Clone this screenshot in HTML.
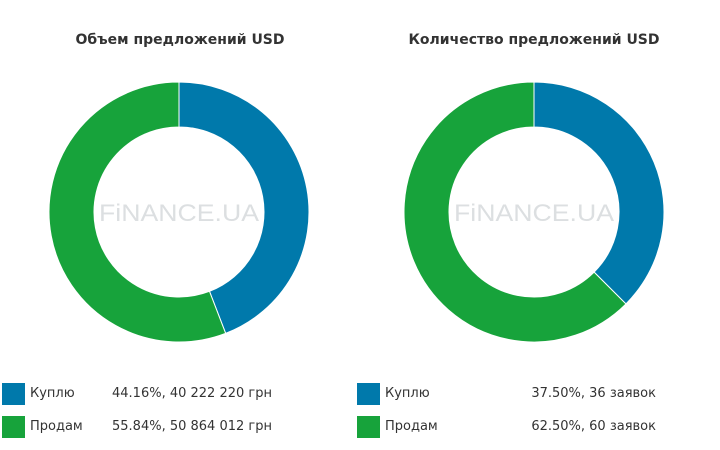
<!DOCTYPE html>
<html><head><meta charset="utf-8"><style>
body{margin:0;width:720px;height:450px;background:#fff;font-family:"Liberation Sans","DejaVu Sans",sans-serif;overflow:hidden;position:relative}
.t{position:absolute;top:32px;font-weight:bold;font-size:14px;color:#333;text-align:center;width:360px;font-family:"DejaVu Sans",sans-serif}
.lg{position:absolute;font-size:13px;color:#333;font-family:"DejaVu Sans",sans-serif}
.sq{position:absolute;width:23px;height:22px}
</style></head><body>
<div class="t" style="left:0">Объем предложений USD</div>
<div class="t" style="left:354px">Количество предложений USD</div>
<svg id="s" width="720" height="450" style="position:absolute;left:0;top:0"></svg>
<div id="leg"></div>
<script>
const labels=["Куплю","Продам"];
const colors=["#0079ab","#17a33b"];
const volPct=[44.16,55.84];
const volText=["40 222 220 грн","50 864 012 грн"];
const cntPct=[37.5,62.5];
const cntText=["36 заявок","60 заявок"];
const NS="http://www.w3.org/2000/svg";
const svg=document.getElementById('s');
function donut(cx,cy,R,r,vals,name){
  const tot=vals.reduce((a,b)=>a+b,0);let a0=0;
  vals.forEach((v,i)=>{
    const a1=a0+v/tot*2*Math.PI;
    const p=(rad,a)=>[cx+rad*Math.sin(a),cy-rad*Math.cos(a)];
    const large=(a1-a0)>Math.PI?1:0;
    const [x1,y1]=p(R,a0),[x2,y2]=p(R,a1),[x3,y3]=p(r,a1),[x4,y4]=p(r,a0);
    const path=document.createElementNS(NS,'path');
    path.setAttribute('d',`M${x1},${y1}A${R},${R} 0 ${large} 1 ${x2},${y2}L${x3},${y3}A${r},${r} 0 ${large} 0 ${x4},${y4}Z`);
    path.setAttribute('fill',colors[i]);path.setAttribute('stroke','#fff');path.setAttribute('stroke-width','1');
    
    
    svg.appendChild(path);a0=a1;
  });
  const t=document.createElementNS(NS,'text');
  t.setAttribute('x',cx-80);t.setAttribute('y',cy+9);
  t.setAttribute('textLength','160');t.setAttribute('lengthAdjust','spacingAndGlyphs');
  t.setAttribute('font-size','24');t.setAttribute('fill','#dcdfe1');
  t.setAttribute('font-family','Liberation Sans, sans-serif');t.textContent='FiNANCE.UA';
  
  
  svg.appendChild(t);
}
donut(179,212,130,85,volPct,'volume');
donut(534,212,130,85,cntPct,'count');
const leg=document.getElementById('leg');
function legend(x0,pcts,texts,right,name){
  pcts.forEach((v,i)=>{
    const y=383+i*33;
    const sq=document.createElement('div');sq.className='sq';
    sq.style.left=x0+'px';sq.style.top=y+'px';sq.style.background=colors[i];
    
    
    leg.appendChild(sq);
    const l=document.createElement('div');l.className='lg';
    l.style.left=(x0+28)+'px';l.style.top=(y+3)+'px';l.textContent=labels[i];
    
    
    leg.appendChild(l);
    const val=document.createElement('div');val.className='lg';
    val.style.top=(y+3)+'px';
    if(right){val.style.right=(720-right)+'px';}else{val.style.left=(x0+110)+'px';}
    val.textContent=v.toFixed(2)+'%, '+texts[i];
    
    
    leg.appendChild(val);
  });
}
legend(2,volPct,volText,0,'volume');
legend(357,cntPct,cntText,656,'count');
</script>
</body></html>
